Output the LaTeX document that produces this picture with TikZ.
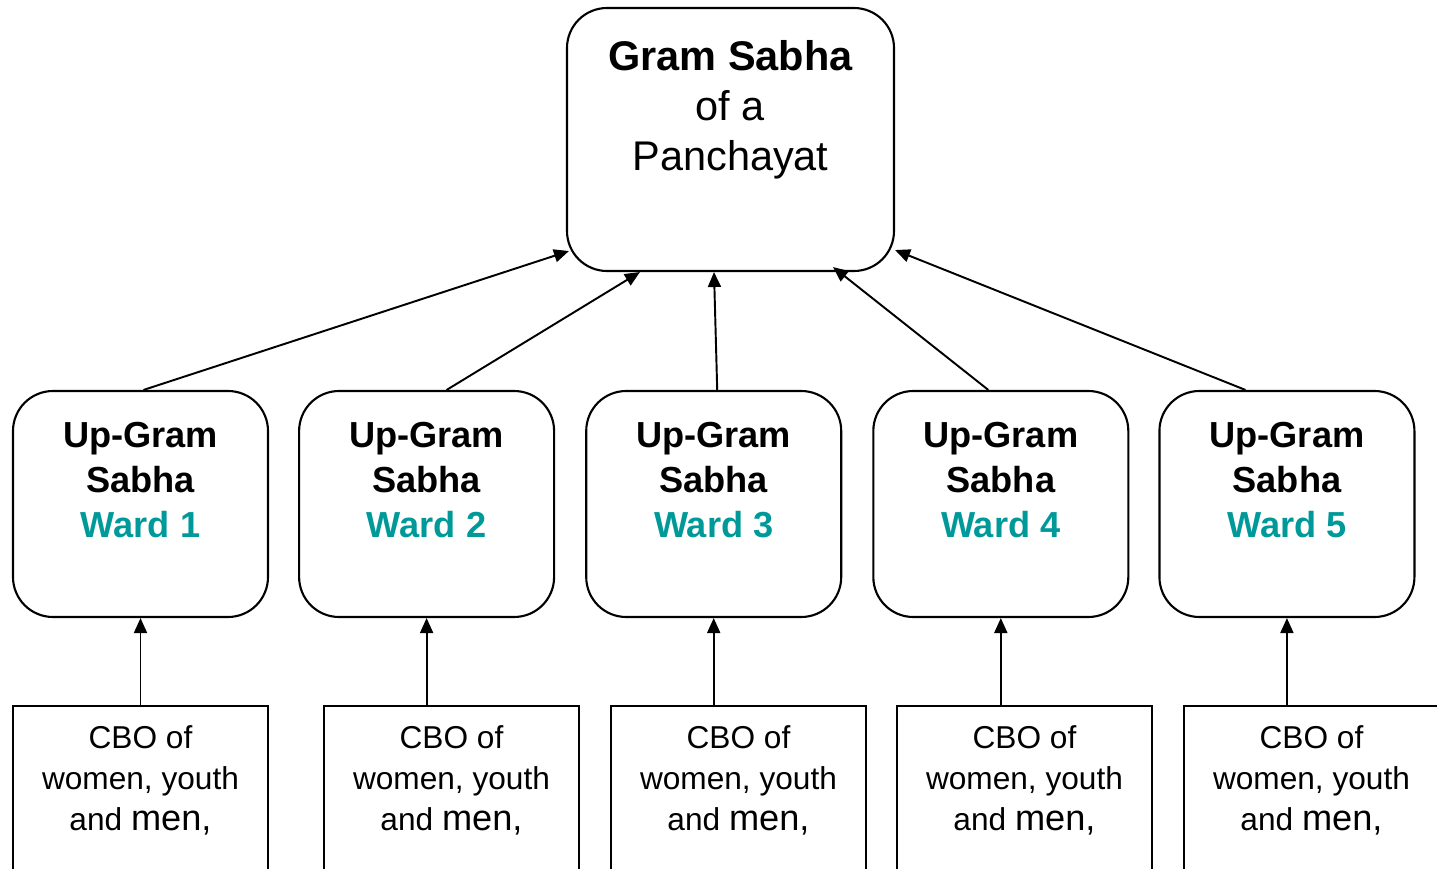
\documentclass[tikz,border=0pt]{standalone}
\usepackage{fontspec}
\setmainfont{Liberation Sans}
\usepackage{xcolor}
\usetikzlibrary{positioning}
\usetikzlibrary{arrows.meta}
\definecolor{wardteal}{RGB}{0,153,153}
\tikzset{gram node/.style={draw,line width=0.6pt,rounded corners=0.4cm,minimum width=3.27cm,minimum height=2.63cm,inner sep=0pt},
ward node/.style={draw,line width=0.6pt,rounded corners=0.4cm,minimum width=2.55cm,minimum height=2.26cm,inner sep=0pt},
cbo node/.style={draw,line width=0.6pt,minimum width=2.55cm,minimum height=2.4cm,anchor=north,inner sep=0pt},
gram text/.style={align=center,inner sep=0pt,font=\fontsize{11.8}{14.2}\selectfont},
ward text/.style={align=center,inner sep=0pt,font=\bfseries\fontsize{10.3}{12.8}\selectfont},
cbo text/.style={align=center,inner sep=0pt,font=\fontsize{9}{11.6}\selectfont},
link/.style={draw,line width=0.55pt,-{Triangle[length=0.15cm,width=0.13cm]}},}

\begin{document}
\begin{tikzpicture}
	\clip (0,0) rectangle (14.37,-8.69);

	\node[gram node] (gs) at (7.305,-1.395) {};
	\node[gram text] (gst) [below=0.33cm of gs.north] {\textbf{Gram Sabha}\\of a\\Panchayat};

	\node[ward node] (w1) at (1.405,-5.04) {};
	\node[ward node] (w2) [right=0.29cm of w1] {};
	\node[ward node] (w3) [right=0.30cm of w2] {};
	\node[ward node] (w4) [right=0.30cm of w3] {};
	\node[ward node] (w5) [right=0.29cm of w4] {};
	\node[ward text] (wt1) [below=0.32cm of w1.north] {Up-Gram\\Sabha\\\textcolor{wardteal}{Ward 1}};
	\node[ward text] (wt2) [below=0.32cm of w2.north] {Up-Gram\\Sabha\\\textcolor{wardteal}{Ward 2}};
	\node[ward text] (wt3) [below=0.32cm of w3.north] {Up-Gram\\Sabha\\\textcolor{wardteal}{Ward 3}};
	\node[ward text] (wt4) [below=0.32cm of w4.north] {Up-Gram\\Sabha\\\textcolor{wardteal}{Ward 4}};
	\node[ward text] (wt5) [below=0.32cm of w5.north] {Up-Gram\\Sabha\\\textcolor{wardteal}{Ward 5}};

	\node[cbo node] (c1) at (1.405,-7.05) {};
	\node[cbo node] (c2) at (4.515,-7.05) {};
	\node[cbo node] (c3) at (7.385,-7.05) {};
	\node[cbo node] (c4) at (10.245,-7.05) {};
	\node[cbo node] (c5) at (13.115,-7.05) {};
	\node[cbo text] (ct1) [below=0.2cm of c1.north] {CBO of\\women, youth\\and {\fontsize{10.3}{12}\selectfont men,}};
	\node[cbo text] (ct2) [below=0.2cm of c2.north] {CBO of\\women, youth\\and {\fontsize{10.3}{12}\selectfont men,}};
	\node[cbo text] (ct3) [below=0.2cm of c3.north] {CBO of\\women, youth\\and {\fontsize{10.3}{12}\selectfont men,}};
	\node[cbo text] (ct4) [below=0.2cm of c4.north] {CBO of\\women, youth\\and {\fontsize{10.3}{12}\selectfont men,}};
	\node[cbo text] (ct5) [below=0.2cm of c5.north] {CBO of\\women, youth\\and {\fontsize{10.3}{12}\selectfont men,}};

	\path
	(c1.north -| w1.south) edge[link] (w1.south)
	(c2.north -| w2.south) edge[link] (w2.south)
	(c3.north -| w3.south) edge[link] (w3.south)
	(c4.north -| w4.south) edge[link] (w4.south)
	(c5.north -| w5.south) edge[link] (w5.south)
	;

	\path
	([xshift=0.03cm]w1.north) edge[link] ([shift={(0.03,0.21)}]gs.south west)
	([xshift=0.2cm]w2.north) edge[link] ([xshift=0.74cm]gs.south west)
	([xshift=0.035cm]w3.north) edge[link] ([xshift=-0.165cm]gs.south)
	([xshift=-0.125cm]w4.north) edge[link] ([shift={(-0.62,0.05)}]gs.south east)
	([xshift=-0.415cm]w5.north) edge[link] ([yshift=0.22cm]gs.south east)
	;

\end{tikzpicture}
\end{document}
